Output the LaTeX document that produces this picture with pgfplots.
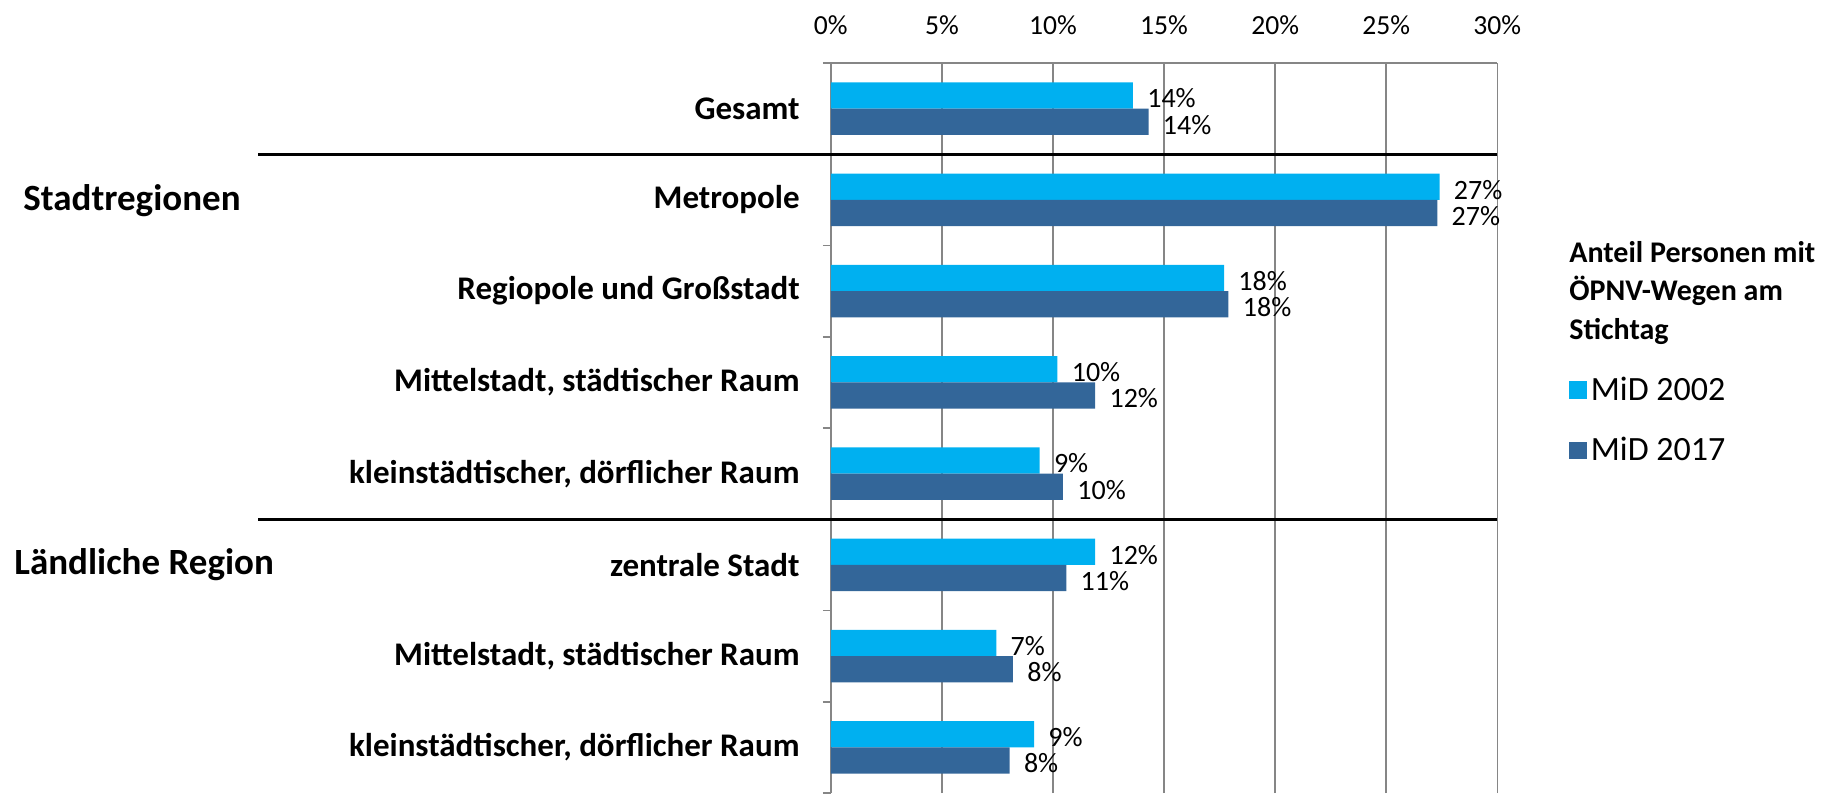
\documentclass[border=0pt]{standalone}
\usepackage{pgfplots}
\pgfplotsset{compat=1.18}
\usepackage{fontspec}
\setmainfont{Carlito}
\definecolor{c02}{RGB}{0,176,240}
\definecolor{c17}{RGB}{51,102,153}
\definecolor{gridc}{RGB}{134,134,134}
\begin{document}
\begin{tikzpicture}
\useasboundingbox (0,0) rectangle (913.5pt,396.5pt);
\begin{axis}[
  at={(415.4pt,0pt)}, anchor=south west,
  scale only axis, width=333.25pt, height=365pt,
  xbar, bar width=13.15pt,
  xmin=0, xmax=30, ymin=-0.5, ymax=7.5,
  axis x line*=top, axis y line*=left,
  axis line style={gridc, line width=0.8pt, -},
  xtick={0,5,...,30},
  xticklabels={0\%,5\%,10\%,15\%,20\%,25\%,30\%},
  xtick style={draw=none},
  xmajorgrids, grid style={gridc, line width=0.8pt},
  xticklabel style={font=\fontsize{13.8}{16}\selectfont, inner sep=0pt, anchor=base, yshift=14.3pt},
  ytick={0,...,7},
  yticklabels={{kleinstädtischer, dörflicher Raum},{Mittelstadt, städtischer Raum},{zentrale Stadt},{kleinstädtischer, dörflicher Raum},{Mittelstadt, städtischer Raum},{Regiopole und Großstadt},{Metropole},{Gesamt}},
  yticklabel style={font=\bfseries\fontsize{16.5}{19}\selectfont, anchor=east, inner sep=0pt, xshift=-15.4pt},
  major tick length=0pt,
  minor ytick={-0.5,0.5,...,7.5},
  minor tick length=4pt, tick align=outside,
  minor y tick style={gridc, line width=0.8pt},
  /pgf/number format/assume math mode=true,
  point meta=x,
  nodes near coords={\pgfmathprintnumber[fixed,precision=0]{\pgfplotspointmeta}\%},
  nodes near coords style={font=\fontsize{14}{16}\selectfont, anchor=west, inner sep=0pt, xshift=7pt, yshift=-1.5pt, black},
  legend style={at={(1.1076,0.5107)}, anchor=west, draw=none, fill=none, inner sep=0pt,
    font=\fontsize{17}{19}\selectfont, row sep=13pt,
    /tikz/every even column/.append style={column sep=3pt}},
  legend cell align=left,
  legend image code/.code={\fill[#1] (0pt,-4.375pt) rectangle (8.75pt,4.375pt);},
]
\addplot[fill=c02, draw=none, bar shift=6.575pt] coordinates {
 (13.6,7) (27.4,6) (17.7,5) (10.2,4) (9.4,3) (11.9,2) (7.45,1) (9.15,0)};
\addlegendentry{MiD 2002}
\addplot[fill=c17, draw=none, bar shift=-6.575pt] coordinates {
 (14.3,7) (27.3,6) (17.9,5) (11.9,4) (10.45,3) (10.6,2) (8.2,1) (8.05,0)};
\addlegendentry{MiD 2017}
\coordinate (s1) at (axis cs:30,6.5);
\coordinate (s2) at (axis cs:30,2.5);
\coordinate (g1) at (axis cs:0,6);
\coordinate (g2) at (axis cs:0,2);
\end{axis}
\draw[line width=1.5pt] (s1) -- ++(-619.65pt,0);
\draw[line width=1.5pt] (s2) -- ++(-619.65pt,0);
\node[anchor=base west, inner sep=0pt, font=\bfseries\fontsize{18.5}{21}\selectfont] at ([xshift=-403.9pt,yshift=-5.06pt]g1) {Stadtregionen};
\node[anchor=base west, inner sep=0pt, font=\bfseries\fontsize{18.5}{21}\selectfont] at ([xshift=-408.4pt,yshift=-5.06pt]g2) {Ländliche Region};
\begin{scope}[every node/.style={anchor=base west, inner sep=0pt, font=\bfseries\fontsize{15}{18}\selectfont}]
\node at (784.5pt,265.2pt) {Anteil Personen mit};
\node at (784.5pt,246pt) {ÖPNV-Wegen am};
\node at (784.5pt,226.7pt) {Stichtag};
\end{scope}
\end{tikzpicture}
\end{document}
